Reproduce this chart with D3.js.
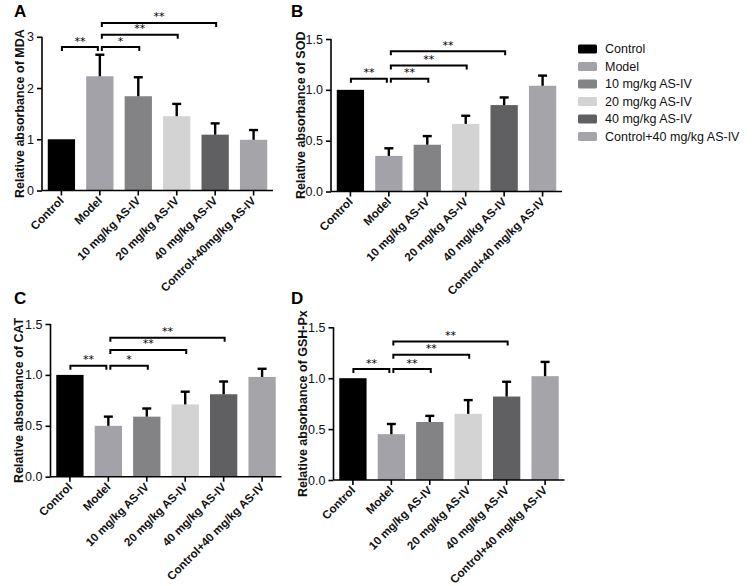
<!DOCTYPE html>
<html>
<head>
<meta charset="utf-8">
<script src="https://cdn.jsdelivr.net/npm/d3@7"></script>
<style>
  html, body { margin: 0; padding: 0; background: #ffffff; }
  svg { display: block; font-family: "Liberation Sans", Arial, Helvetica, sans-serif; }
</style>
</head>
<body>
<svg id="chart" width="753" height="586"></svg>
<script>
// ---------------- data ----------------
const categories = ["Control", "Model", "10 mg/kg AS-IV", "20 mg/kg AS-IV", "40 mg/kg AS-IV", "Control+40 mg/kg AS-IV"];
const tickLabelsA = ["Control", "Model", "10 mg/kg AS-IV", "20 mg/kg AS-IV", "40 mg/kg AS-IV", "Control+40mg/kg AS-IV"];

const mdaMean = [1.00, 2.23, 1.84, 1.45, 1.09, 0.99];
const mdaErr  = [0.00, 0.42, 0.37, 0.24, 0.22, 0.19];
const sodMean = [1.00, 0.35, 0.46, 0.665, 0.85, 1.04];
const sodErr  = [0.00, 0.075, 0.085, 0.08, 0.075, 0.10];
const catMean = [1.00, 0.50, 0.59, 0.71, 0.81, 0.98];
const catErr  = [0.00, 0.09, 0.08, 0.125, 0.125, 0.08];
const gshMean = [1.00, 0.45, 0.57, 0.65, 0.82, 1.02];
const gshErr  = [0.00, 0.10, 0.06, 0.135, 0.145, 0.14];

const mdaTicks = [0, 1, 2, 3];
const sodTicks = [0.0, 0.5, 1.0, 1.5];
const catTicks = [0.0, 0.5, 1.0, 1.5];
const gshTicks = [0.0, 0.5, 1.0, 1.5];

// significance brackets: [from index, to index, level (data units), label]
const mdaSig = [[0, 1, 2.80, "**"], [1, 2, 2.80, "*"], [1, 3, 3.04, "**"], [1, 4, 3.27, "**"]];
const sodSig = [[0, 1, 1.11, "**"], [1, 2, 1.11, "**"], [1, 3, 1.24, "**"], [1, 4, 1.38, "**"]];
const catSig = [[0, 1, 1.09, "**"], [1, 2, 1.09, "*"], [1, 3, 1.245, "**"], [1, 4, 1.365, "**"]];
const gshSig = [[0, 1, 1.09, "**"], [1, 2, 1.09, "**"], [1, 3, 1.23, "**"], [1, 4, 1.36, "**"]];

const colors = ["#000000", "#a2a2a8", "#838385", "#d3d3d3", "#606062", "#a5a5a9"];

// ---------------- layout ----------------
const panels = [
  { letter: "A", title: "Relative absorbance of MDA", mean: mdaMean, err: mdaErr, ticks: mdaTicks, fmt: d3.format("d"), sig: mdaSig, labels: tickLabelsA,
    x0: 42, y0: 190.5, yTop: 36.8, letterX: 14, letterY: 17, titleX: 20 },
  { letter: "B", title: "Relative absorbance of SOD", mean: sodMean, err: sodErr, ticks: sodTicks, fmt: d3.format(".1f"), sig: sodSig, labels: categories,
    x0: 331, y0: 191.5, yTop: 39, letterX: 291, letterY: 17, titleX: 301 },
  { letter: "C", title: "Relative absorbance of CAT", mean: catMean, err: catErr, ticks: catTicks, fmt: d3.format(".1f"), sig: catSig, labels: categories,
    x0: 50.5, y0: 476.7, yTop: 324, letterX: 14, letterY: 304, titleX: 19 },
  { letter: "D", title: "Relative absorbance of GSH-Px", mean: gshMean, err: gshErr, ticks: gshTicks, fmt: d3.format(".1f"), sig: gshSig, labels: categories,
    x0: 333.5, y0: 480, yTop: 327.3, letterX: 291, letterY: 304, titleX: 303 }
];

const svg = d3.select("#chart");
const axisW = 231;

panels.forEach(p => {
  const g = svg.append("g");
  const x = d3.scaleBand().domain(d3.range(categories.length)).range([p.x0, p.x0 + axisW])
    .paddingInner(0.29).paddingOuter(0.15);
  const yMax = p.ticks[p.ticks.length - 1];
  const y = d3.scaleLinear().domain([0, yMax]).range([p.y0, p.yTop]);

  // bars
  g.selectAll("rect.bar").data(p.mean).join("rect")
    .attr("class", "bar")
    .attr("x", (d, i) => x(i))
    .attr("width", x.bandwidth())
    .attr("y", d => y(d))
    .attr("height", d => p.y0 - y(d))
    .attr("fill", (d, i) => colors[i]);

  // error bars
  const cap = 9;
  p.mean.forEach((m, i) => {
    const e = p.err[i];
    if (e <= 0) return;
    const cx = x(i) + x.bandwidth() / 2;
    g.append("line").attr("x1", cx).attr("x2", cx).attr("y1", y(m)).attr("y2", y(m + e))
      .attr("stroke", "#000").attr("stroke-width", 2.4);
    g.append("line").attr("x1", cx - cap / 2).attr("x2", cx + cap / 2).attr("y1", y(m + e)).attr("y2", y(m + e))
      .attr("stroke", "#000").attr("stroke-width", 2.4);
  });

  // y axis
  const yAxis = d3.axisLeft(y).tickValues(p.ticks).tickFormat(p.fmt).tickSize(5).tickPadding(3);
  const ya = g.append("g").attr("transform", `translate(${p.x0},0)`).call(yAxis);
  ya.select(".domain").attr("stroke", "#000").attr("stroke-width", 1.6).attr("d", `M0,${p.y0}V${p.yTop}`);
  ya.selectAll(".tick line").attr("stroke", "#000").attr("stroke-width", 1.6);
  ya.selectAll(".tick text").attr("font-size", 12.5).attr("fill", "#111").attr("font-family", "Liberation Sans, Arial, sans-serif");

  // x axis
  const xAxis = d3.axisBottom(x).tickSize(5).tickFormat(i => p.labels[i]);
  const xa = g.append("g").attr("transform", `translate(0,${p.y0})`).call(xAxis);
  xa.select(".domain").attr("stroke", "#000").attr("stroke-width", 1.6).attr("d", `M${p.x0},0H${p.x0 + axisW}`);
  xa.selectAll(".tick line").attr("stroke", "#000").attr("stroke-width", 1.6);
  xa.selectAll(".tick text")
    .attr("font-size", 11.6).attr("font-weight", "bold").attr("fill", "#111")
    .attr("font-family", "Liberation Sans, Arial, sans-serif")
    .attr("text-anchor", "end")
    .attr("dy", null)
    .attr("y", 0)
    .attr("transform", "translate(3,11) rotate(-45)");

  // y title
  g.append("text")
    .attr("transform", `translate(${p.titleX},${(p.y0 + p.yTop) / 2}) rotate(-90)`)
    .attr("text-anchor", "middle").attr("dominant-baseline", "central")
    .attr("font-size", 12.5).attr("font-weight", "bold").attr("fill", "#111")
    .text(p.title);

  // panel letter
  g.append("text").attr("x", p.letterX).attr("y", p.letterY)
    .attr("font-size", 17).attr("font-weight", "bold").attr("fill", "#000").text(p.letter);

  // significance brackets
  p.sig.forEach(([a, b, lvl, lab]) => {
    const ca = x(a) + x.bandwidth() / 2;
    const cb = x(b) + x.bandwidth() / 2;
    const x1 = a === 0 ? ca + 0.5 : ca + 2;
    const x2 = a === 0 ? cb - 2 : cb + 1;
    const yy = y(lvl);
    g.append("path").attr("d", `M${x1},${yy + 4}V${yy}H${x2}V${yy + 4}`)
      .attr("fill", "none").attr("stroke", "#000").attr("stroke-width", 2);
    g.append("text").attr("x", (x1 + x2) / 2).attr("y", yy - 2.5)
      .attr("text-anchor", "middle").attr("font-size", 11)
      .attr("font-family", "DejaVu Sans, sans-serif")
      .attr("fill", "#000").attr("stroke", "none").text(lab);
  });
});

// legend
const legend = svg.append("g").attr("transform", "translate(578,49)");
categories.forEach((c, i) => {
  const row = legend.append("g").attr("transform", `translate(0,${i * 17.5})`);
  row.append("rect").attr("x", 0).attr("y", -4.5).attr("width", 19).attr("height", 9).attr("rx", 1.5)
    .attr("fill", colors[i]);
  row.append("text").attr("x", 27).attr("y", 0).attr("dominant-baseline", "central")
    .attr("font-size", 12.5).attr("fill", "#111").text(c);
});
</script>
</body>
</html>
